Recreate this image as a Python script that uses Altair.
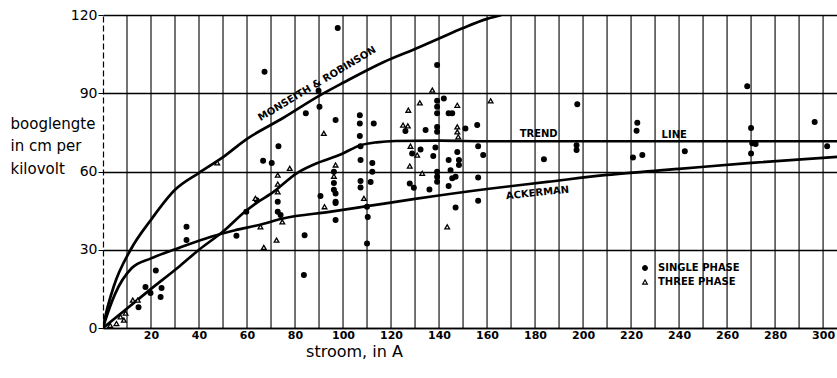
import altair as alt
import pandas as pd

# ---- curves ----
mr_x = [0, 1, 4.5, 11.5, 20, 30, 40, 50, 60, 75, 90, 100, 117, 130, 140, 150, 160, 166]
mr_y = [0, 4.5, 16, 30, 41.5, 53, 59.5, 65.5, 72.5, 80.5, 89, 94, 102, 107, 111, 115, 118.5, 120]

tr_x = [0, 10, 20, 31, 40, 50, 59, 64, 70, 81, 90, 99, 107, 114, 122, 140, 160, 200, 250, 306]
tr_y = [0, 7.5, 15, 23, 30, 37, 44.5, 48, 51.5, 59.5, 63.5, 66.5, 70, 71.2, 71.7, 71.8, 71.6, 71.6, 71.6, 71.6]

ak_x = [0, 1, 5, 12, 20, 31, 45, 55, 65, 75, 95, 110, 130, 160, 185, 210, 240, 270, 306]
ak_y = [0, 3, 13, 23, 26.7, 30.5, 35, 37.5, 39.5, 42, 44.6, 46.7, 49.5, 53.3, 56, 58.7, 61, 63.3, 65.6]

# ---- measurements ----
single_x = [17.7, 19.8, 22, 24.4, 24, 14.8, 34.8, 34.8, 55.6, 59.7, 64, 67.3, 89.8, 84.5, 90.2, 96.9,
            73.1, 66.7, 70.3, 72.8, 72.8, 74, 84, 83.7, 90.6, 96.9, 96.9, 96.2, 96.2, 96.2, 96.9, 96.9,
            97.8, 107, 107, 107, 112.8, 107.3, 107.3, 112.2, 112.2, 107.3, 107.3, 111.5, 110.3, 110, 110,
            139.2, 142, 139.2, 139.2, 139.2, 144, 145.5, 134.4, 139.2, 139.2, 151, 155.9, 126,
            132.3, 138.5, 137.6, 144, 147.6, 148.3, 148.3, 156.3, 158.4, 128.8,
            139.2, 139.2, 139.2, 144.8, 146.9, 145.5, 156.3, 127.8, 129.5, 136, 144, 146.9, 156.3,
            183.7, 197.6, 197.3, 197.3, 222.6, 222.3, 224.7, 220.8, 242.4,
            268.4, 270, 270.5, 271.9, 270, 296.5, 301.7]
single_y = [15.7, 13.4, 22, 15.3, 11.9, 8, 38.8, 33.7, 35.4, 44.6, 49, 98.2, 91, 82.3, 84.8, 79.7,
            69.7, 64.1, 63.3, 48.4, 44.6, 43.3, 35.6, 20.3, 50.6, 51.6, 48.4, 59.9, 55.6, 53, 41.4, 47.9,
            115, 81.6, 78.4, 73.6, 78.4, 69.7, 64.4, 63.3, 59.9, 56.4, 53.9, 56, 42.6, 46.5, 32.4,
            100.8, 88, 87.1, 84.8, 82.3, 82.3, 82.3, 75.9, 77.1, 75.2, 76.5, 77.8, 75.5,
            68.4, 69.2, 65.9, 64.4, 67.5, 64.4, 62.5, 69.7, 66.3, 66.9,
            59.9, 58, 56.1, 60.5, 58, 57.4, 57.7, 55.4, 53.8, 53.1, 54.4, 46.2, 48.8,
            64.7, 85.8, 70.1, 68.2, 78.7, 75.6, 66.3, 65.4, 67.8,
            92.7, 76.7, 70.8, 70.5, 66.9, 79, 69.7]

three_x = [12.4, 14.5, 9.4, 7.3, 8.7, 5.6, 3, 47.6, 63.5, 65.6, 67, 72.3, 72.8, 72.8, 72.8, 74.7,
           77.8, 92, 92.3, 96.9, 96.2, 108.7, 125, 127, 127.2, 127.8, 128.1, 130.9, 132, 133,
           137.2, 143.4, 147.6, 147.6, 147.6, 148, 161.5]
three_y = [10.7, 10.7, 5.7, 4.3, 3, 1.7, 1, 63.3, 49.7, 38.8, 30.9, 33.7, 58.6, 55.2, 52.2, 40.7,
           61.2, 74.6, 46.5, 62.5, 58.2, 49.7, 77.8, 77.5, 83.5, 62.1, 69.7, 66.3, 86.3, 59.3,
           91.2, 38.8, 85.4, 77.1, 75.2, 73.3, 87.1]

# axis ticks
x_labels = list(range(20, 301, 20))
x_grid = list(range(10, 301, 10))
y_ticks = [0, 30, 60, 90, 120]

# curve labels
lab_text = ["MONSEITH & ROBINSON", "TREND", "LINE", "ACKERMAN"]
lab_x = [89.2, 181.5, 238, 181]
lab_y = [93.6, 74.5, 74, 51.8]
lab_angle = [329, 0, 0, 354]

phases = ["SINGLE PHASE", "THREE PHASE"]

curves = pd.concat([
    pd.DataFrame({"x": mr_x, "y": mr_y, "curve": "mr"}),
    pd.DataFrame({"x": tr_x, "y": tr_y, "curve": "trend"}),
    pd.DataFrame({"x": ak_x, "y": ak_y, "curve": "ack"}),
])
points = pd.concat([
    pd.DataFrame({"x": single_x, "y": single_y, "phase": phases[0]}),
    pd.DataFrame({"x": three_x, "y": three_y, "phase": phases[1]}),
])
labels = pd.DataFrame({"x": lab_x, "y": lab_y, "t": lab_text, "a": lab_angle})
grid_df = pd.DataFrame({"g": x_grid})

xs = alt.Scale(domain=[0, 305.8], nice=False, zero=False)
ys = alt.Scale(domain=[0, 120], nice=False, zero=False)

xaxis = alt.Axis(values=x_labels, labelOverlap=False,
                 grid=False, ticks=False, domainColor="black", domainWidth=1.6,
                 labelFont="DejaVu Sans", labelFontSize=11, labelFontWeight="bold",
                 labelColor="black", labelPadding=1, labelFlush=False,
                 title="stroom, in A", titleFont="DejaVu Sans", titleFontSize=16,
                 titleFontWeight="normal", titleColor="black",
                 titleX=251, titleY=23, titleAlign="center", titleBaseline="middle")
yaxis = alt.Axis(values=y_ticks, labelOverlap=False,
                 grid=True, gridColor="black", gridWidth=1.6, gridOpacity=1,
                 ticks=True, tickSize=5, tickColor="black", domainColor="black",
                 domainWidth=1.2, domainDash=[6, 3],
                 labelFont="DejaVu Sans", labelFontSize=14, labelColor="black",
                 labelPadding=1,
                 title=["booglengte", "in cm per", "kilovolt"], titleAngle=0,
                 titleAlign="left", titleBaseline="top", titleX=-93, titleY=101,
                 titleFont="DejaVu Sans", titleFontSize=15, titleFontWeight="normal",
                 titleLineHeight=22.5, titleColor="black")

vgrid = alt.Chart(grid_df).mark_rule(color="black", strokeWidth=1.1).encode(
    x=alt.X("g:Q", scale=xs, axis=xaxis),
)

lines = alt.Chart(curves).mark_line(color="black", strokeWidth=2.7, interpolate="monotone",
                                    clip=True).encode(
    x=alt.X("x:Q", scale=xs),
    y=alt.Y("y:Q", scale=ys, axis=yaxis),
    detail="curve:N",
)

leg = alt.Legend(title=None, orient="none", legendX=537, legendY=248,
                 labelFont="DejaVu Sans", labelFontSize=10, labelFontWeight="bold",
                 labelColor="black", symbolStrokeWidth=1.2, symbolSize=22,
                 rowPadding=4, labelOffset=8)

pts = alt.Chart(points).mark_point(filled=True, strokeWidth=1.3, opacity=1, size=22).encode(
    x=alt.X("x:Q", scale=xs),
    y=alt.Y("y:Q", scale=ys),
    shape=alt.Shape("phase:N", scale=alt.Scale(domain=phases, range=["circle", "triangle-up"]),
                    legend=leg),
    fill=alt.Fill("phase:N", scale=alt.Scale(domain=phases, range=["black", "white"]),
                  legend=leg),
    stroke=alt.Stroke("phase:N", scale=alt.Scale(domain=phases, range=["black", "black"]),
                      legend=leg),
)

txt = alt.Chart(labels).mark_text(font="DejaVu Sans", fontSize=10, fontWeight="bold",
                                  color="black").encode(
    x=alt.X("x:Q", scale=xs),
    y=alt.Y("y:Q", scale=ys),
    text="t:N",
    angle=alt.Angle("a:Q", scale=None),
)

chart = (vgrid + lines + pts + txt).properties(
    width=734, height=313,
    autosize=alt.AutoSizeParams(type="none"),
    padding={"left": 103, "top": 15, "right": 0, "bottom": 50},
    background="white",
).configure_view(strokeWidth=0)

chart.save("out.html", embed_options={"renderer": "svg", "actions": False})
